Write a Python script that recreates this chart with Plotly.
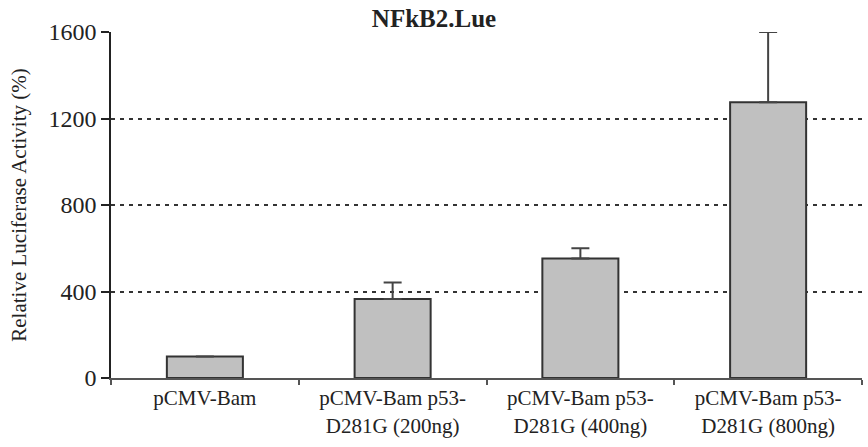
import plotly.graph_objects as go

categories = [
    "pCMV-Bam",
    "pCMV-Bam p53-<br>D281G (200ng)",
    "pCMV-Bam p53-<br>D281G (400ng)",
    "pCMV-Bam p53-<br>D281G (800ng)",
]
values = [100, 365, 553, 1275]
errors = [None, 77, 47, 325]
y_ticks = [0, 400, 800, 1200, 1600]
grid_values = [400, 800, 1200]

font_family = "Liberation Serif"

fig_w, fig_h = 868, 447

fig = go.Figure()
fig.add_trace(go.Bar(
    x=categories,
    y=values,
    marker=dict(color="#c0c0c0", line=dict(color="#333333", width=2)),
    error_y=dict(type="data", array=errors, symmetric=False, arrayminus=[0]*4,
                 color="#444444", thickness=2, width=9),
    showlegend=False,
))

fig.update_layout(
    width=fig_w, height=fig_h,
    margin=dict(l=111, r=6, t=32, b=69),
    paper_bgcolor="white", plot_bgcolor="white",
    bargap=0.595,
    font=dict(family=font_family, color="#222222", size=21),
    title=dict(text="<b>NFkB2.Lue</b>", x=0.5, xref="container", xanchor="center",
               y=1 - 18 / fig_h, yref="container", yanchor="middle",
               font=dict(family=font_family, size=25, color="#222222")),
)

fig.update_xaxes(
    automargin=False,
    showline=True, linecolor="#555555", linewidth=2,
    ticks="outside", tickson="boundaries", ticklen=5, tickcolor="#555555", tickwidth=1.5,
    showgrid=False, tickfont=dict(family=font_family, size=21, color="#222222"),
)

fig.update_yaxes(
    automargin=False,
    range=[0, 1600], tickvals=y_ticks,
    showline=True, linecolor="#222222", linewidth=1.5,
    ticks="outside", ticklen=8, tickcolor="#222222", tickwidth=1.5,
    showgrid=False, zeroline=False,
    tickfont=dict(family=font_family, size=24, color="#222222"),
    minor=dict(tickvals=grid_values, showgrid=True, gridcolor="#333333",
               gridwidth=1.5, griddash="4px,5px", ticks=""),
    title=dict(text="Relative Luciferase Activity (%)", standoff=16,
               font=dict(family=font_family, size=21, color="#222222")),
)

fig.write_html("out.html",
               config={"displayModeBar": False},
               post_script="document.body.style.margin='0';document.body.style.overflow='hidden';")
